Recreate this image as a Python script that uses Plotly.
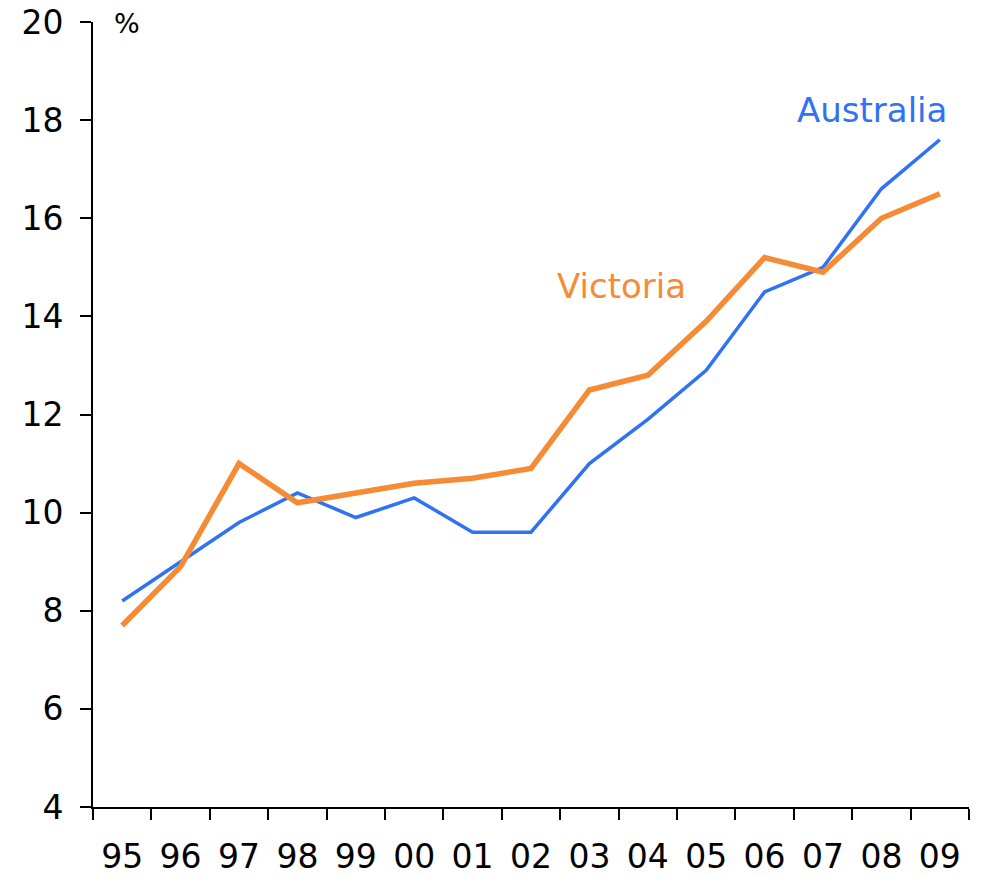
import plotly.graph_objects as go

years = ["95", "96", "97", "98", "99", "00", "01", "02", "03", "04", "05", "06", "07", "08", "09"]
australia = [8.2, 9.0, 9.8, 10.4, 9.9, 10.3, 9.6, 9.6, 11.0, 11.9, 12.9, 14.5, 15.0, 16.6, 17.6]
victoria = [7.7, 8.9, 11.0, 10.2, 10.4, 10.6, 10.7, 10.9, 12.5, 12.8, 13.9, 15.2, 14.9, 16.0, 16.5]

BLUE = "#2F72F2"
ORANGE = "#F58B35"
FONT = "DejaVu Sans"

L, R, T, B = 93, 969, 22, 807
W, H = 982, 877

fig = go.Figure()
fig.add_trace(go.Scatter(x=years, y=australia, mode="lines", name="Australia",
                         line=dict(color=BLUE, width=3.5)))
fig.add_trace(go.Scatter(x=years, y=victoria, mode="lines", name="Victoria",
                         line=dict(color=ORANGE, width=5.5)))


def px2paper(px, py):
    return (px - L) / (R - L), (B - py) / (B - T)


ax, ay = px2paper(872, 110)
vx, vy = px2paper(621, 286)
pctx, pcty = px2paper(127, 23)

fig.update_layout(
    width=W, height=H,
    margin=dict(l=L, r=W - R, t=T, b=H - B, pad=0),
    paper_bgcolor="white", plot_bgcolor="white",
    showlegend=False,
    font=dict(family=FONT, size=33, color="black"),
    xaxis=dict(type="category", range=[-0.5, 14.5], showgrid=False, zeroline=False,
               showline=True, linecolor="black", linewidth=2,
               ticks="outside", tickson="boundaries", ticklen=11, tickwidth=2, tickcolor="black",
               tickfont=dict(size=33, family=FONT), automargin=False, ticklabelstandoff=19),
    yaxis=dict(range=[4, 20], tickvals=[4, 6, 8, 10, 12, 14, 16, 18, 20], showgrid=False, zeroline=False,
               showline=True, linecolor="black", linewidth=2,
               ticks="outside", ticklen=11, tickwidth=2, tickcolor="black",
               tickfont=dict(size=33, family=FONT), automargin=False, ticklabelstandoff=10),
    annotations=[
        dict(text="%", x=pctx, y=pcty, xref="paper", yref="paper", showarrow=False,
             xanchor="center", yanchor="middle", font=dict(size=27, color="black", family=FONT)),
        dict(text="Australia", x=ax, y=ay, xref="paper", yref="paper", showarrow=False,
             xanchor="center", yanchor="middle", font=dict(size=34, color=BLUE, family=FONT)),
        dict(text="Victoria", x=vx, y=vy, xref="paper", yref="paper", showarrow=False,
             xanchor="center", yanchor="middle", font=dict(size=34, color=ORANGE, family=FONT)),
    ],
)

fig.write_html("out.html", config={"displayModeBar": False},
               post_script="document.body.style.margin='0';")
